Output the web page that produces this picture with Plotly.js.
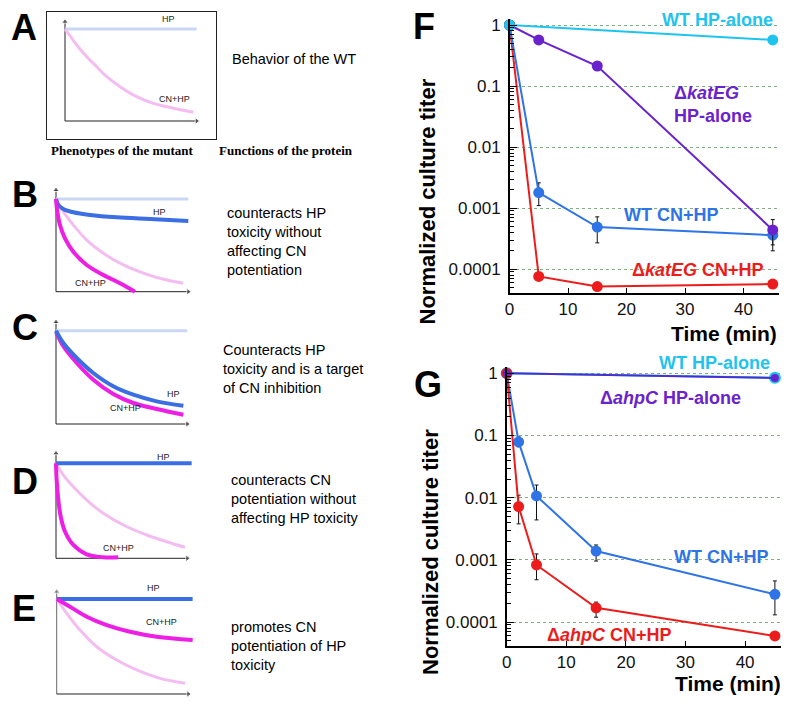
<!DOCTYPE html>
<html><head><meta charset="utf-8">
<script src="https://cdn.plot.ly/plotly-3.0.1.min.js"></script>
<style>html,body{margin:0;padding:0;background:#fff}#c{width:798px;height:708px}</style>
</head><body><div id="c"></div>
<script>
// ---------- Panel F data ----------
const fTimeAll = [0, 5, 15, 45];
const fTimeWt = [0, 45];
const fWtHpAlone = [1, 0.57];
const fKatHpAlone = [1, 0.57, 0.213, 0.00044];
const fKatHpHi = [null, null, null, 0.00065];
const fKatHpLo = [null, null, null, 0.00025];
const fWtCnHp = [1, 0.0018, 0.00049, 0.00036];
const fWtCnHi = [null, 0.0026, 0.00072, 0.00045];
const fWtCnLo = [null, 0.0011, 0.00027, 0.0002];
const fKatCnHp = [1, 0.000076, 0.000052, 0.000057];

// ---------- Panel G data ----------
const gTimeAll = [0, 2, 5, 15, 45];
const gTimeHp = [0, 45];
const gWtHpAlone = [1, 0.85];
const gAhpHpAlone = [1, 0.84];
const gWtCnHp = [1, 0.079, 0.0107, 0.00139, 0.00028];
const gWtCnHi = [null, 0.095, 0.016, 0.00174, 0.00046];
const gWtCnLo = [null, 0.066, 0.0044, 0.00096, 0.000131];
const gAhpCnHp = [1, 0.0072, 0.00083, 0.00017, 0.00006];
const gAhpCnHi = [null, 0.011, 0.00125, 0.00021, 0.000066];
const gAhpCnLo = [null, 0.0038, 0.00048, 0.00012, 0.000053];

const yTickVals = [1, 0.1, 0.01, 0.001, 0.0001];
const yTickText = ['1', '0.1', '0.01', '0.001', '0.0001'];
const xTickVals = [0, 10, 20, 30, 40];

// ---------- Schematic curves (arbitrary units 0-100) ----------
const axisX = [0, 100];
const aHpX = [0, 100], aHpY = [92.6, 92.6];
const aCnX = [0, 4.3, 8.9, 16.5, 24.1, 31.7, 41.8, 54.4, 67.1, 82.2, 97.4];
const aCnY = [92.6, 84.9, 76.5, 64.8, 54.6, 44.6, 34.6, 24.5, 17.8, 12.9, 8.8];

const bWtHpX = [0, 100], bWtHpY = [91.2, 91.2];
const bHpX = [0, 1.7, 5.5, 13.1, 25.7, 45.9, 71.1, 100];
const bHpY = [91.2, 85.3, 81.4, 78.1, 75.5, 73.2, 71.5, 69.6];
const bWtCnX = [0, 5.5, 13.1, 23.2, 35.8, 50.9, 68.6, 83.7, 96.2];
const bWtCnY = [91.2, 78.7, 65.6, 50.8, 37.8, 26.3, 17.1, 11.5, 8.3];
const bCnX = [0, 1, 3, 6.8, 13.1, 23.2, 35.8, 48.4, 59.7];
const bCnY = [91.2, 78.7, 65.6, 52.5, 39.3, 26.3, 16.4, 8.3, 0];

const cWtHpX = [0, 100], cWtHpY = [91.5, 91.5];
const cHpX = [0, 5.6, 15.8, 28.4, 43.6, 58.9, 76.7, 97];
const cHpY = [91.5, 79.4, 64.7, 50, 37, 28.7, 22.2, 17.9];
const cCnX = [0, 5.6, 15.8, 28.4, 43.6, 58.9, 76.7, 97];
const cCnY = [90.2, 76.2, 59.8, 43.4, 29.4, 20.6, 14.7, 9.1];

const dHpX = [0, 103.3], dHpY = [90.5, 90.5];
const dWtCnX = [0, 5.6, 13.2, 23.4, 36, 51.3, 69.1, 84.3, 98.2];
const dWtCnY = [90.5, 79.3, 68.2, 55.5, 42.9, 31.7, 22.2, 15.8, 10.5];
const dCnX = [0, 0.5, 1.8, 3.6, 6.9, 13.2, 23.4, 36, 47.4];
const dCnY = [90.5, 74.6, 55.5, 39.6, 25.3, 12.7, 3.8, 1, 1];

const eHpX = [0, 103.3], eHpY = [92.9, 92.9];
const eCnX = [0, 10.1, 22.8, 38, 55.7, 76, 103.3];
const eCnY = [92.9, 85.3, 75.6, 67.4, 60.9, 56, 52.8];
const eWtCnX = [0, 7.6, 17.7, 30.4, 45.6, 60.8, 78.5, 97.5];
const eWtCnY = [92.9, 78.9, 62.6, 46.2, 33.2, 23.5, 15.3, 10.5];

// ---------- styling ----------
const W = 798, H = 708;
const SANS = 'Liberation Sans, Arial, Helvetica, sans-serif';
const SERIF = 'Liberation Serif, Times New Roman, serif';
const C_CYAN = '#1fc4ee', C_PURPLE = '#6a22cc', C_BLUE = '#2f74e6', C_RED = '#ec1c1c';
const C_LBLUE = '#c9d6f4', C_LPINK = '#f4bdf1', C_MAG = '#ee1fe4', C_SBLUE = '#3a6ee2';

function errs(y, hi, lo) {
  return {
    type: 'data', symmetric: false,
    array: y.map((v, i) => hi[i] == null ? 0 : hi[i] - v),
    arrayminus: y.map((v, i) => lo[i] == null ? 0 : v - lo[i]),
    color: '#111', thickness: 1, width: 2
  };
}

const traces = [];
function ser(x, y, color, xa, ya, opts) {
  const t = Object.assign({
    x: x, y: y, xaxis: xa, yaxis: ya, type: 'scatter', mode: 'lines+markers',
    line: { color: color, width: 2 }, marker: { color: color, size: 11 },
    hoverinfo: 'skip', cliponaxis: false
  }, opts || {});
  traces.push(t);
}

// Panel F (x / y)
ser(fTimeAll, fKatCnHp, C_RED, 'x', 'y');
ser(fTimeAll, fWtCnHp, C_BLUE, 'x', 'y', { error_y: errs(fWtCnHp, fWtCnHi, fWtCnLo) });
ser(fTimeAll, fKatHpAlone, C_PURPLE, 'x', 'y', { error_y: errs(fKatHpAlone, fKatHpHi, fKatHpLo) });
ser(fTimeWt, fWtHpAlone, C_CYAN, 'x', 'y');

// Panel G (x2 / y2)
ser(gTimeHp, gWtHpAlone, C_CYAN, 'x2', 'y2', { marker: { color: C_CYAN, size: 12 } });
ser(gTimeAll, gWtCnHp, C_BLUE, 'x2', 'y2', { error_y: errs(gWtCnHp, gWtCnHi, gWtCnLo) });
ser(gTimeAll, gAhpCnHp, C_RED, 'x2', 'y2', { error_y: errs(gAhpCnHp, gAhpCnHi, gAhpCnLo) });
ser(gTimeHp, gAhpHpAlone, '#4a2fd0', 'x2', 'y2', { marker: { color: C_PURPLE, size: 8 } });

// Schematics
function curve(x, y, color, width, n) {
  traces.push({ x: x, y: y, xaxis: 'x' + n, yaxis: 'y' + n, type: 'scatter', mode: 'lines',
    line: { color: color, width: width, shape: 'spline', smoothing: 1 }, hoverinfo: 'skip' });
}
function schemAxes(n, col) {
  traces.push({ x: [0, 0], y: axisX, xaxis: 'x' + n, yaxis: 'y' + n, type: 'scatter', mode: 'lines+markers',
    line: { color: col || '#222', width: 1 }, marker: { symbol: ['circle', 'triangle-up'], size: [0, 6], color: col || '#222' },
    hoverinfo: 'skip', cliponaxis: false });
  traces.push({ x: axisX, y: [0, 0], xaxis: 'x' + n, yaxis: 'y' + n, type: 'scatter', mode: 'lines+markers',
    line: { color: '#222', width: 1 }, marker: { symbol: ['circle', 'triangle-right'], size: [0, 6], color: '#222' },
    hoverinfo: 'skip', cliponaxis: false });
}
// A = 3
schemAxes(3);
curve(aHpX, aHpY, C_LBLUE, 3, 3);
curve(aCnX, aCnY, C_LPINK, 3, 3);
// B = 4
schemAxes(4);
curve(bWtHpX, bWtHpY, C_LBLUE, 3, 4);
curve(bWtCnX, bWtCnY, C_LPINK, 3, 4);
curve(bHpX, bHpY, C_SBLUE, 4, 4);
curve(bCnX, bCnY, C_MAG, 4, 4);
// C = 5
schemAxes(5);
curve(cWtHpX, cWtHpY, C_LBLUE, 3, 5);
curve(cCnX, cCnY, C_MAG, 4, 5);
curve(cHpX, cHpY, C_SBLUE, 4, 5);
// D = 6
schemAxes(6);
curve(dWtCnX, dWtCnY, C_LPINK, 3, 6);
curve(dHpX, dHpY, C_SBLUE, 4, 6);
curve(dCnX, dCnY, C_MAG, 4, 6);
// E = 7
schemAxes(7, '#666');
curve(eWtCnX, eWtCnY, C_LPINK, 3, 7);
curve(eHpX, eHpY, C_SBLUE, 4, 7);
curve(eCnX, eCnY, C_MAG, 4, 7);

// ---------- layout geometry (pixels) ----------
const geo = {
  3: { x0: 65, x1: 196.7, yT: 21.7, yB: 121, xr: [-13.4, 114.7], yr: [-18.4, 110.1], box: true },
  4: { x0: 56, x1: 188.3, yT: 190, yB: 291.7, xr: [-6, 110], yr: [-6, 112] },
  5: { x0: 56, x1: 187.3, yT: 322, yB: 424, xr: [-6, 110], yr: [-6, 112] },
  6: { x0: 56, x1: 187.3, yT: 453.3, yB: 558.3, xr: [-6, 110], yr: [-6, 112] },
  7: { x0: 56.7, x1: 188.3, yT: 591.7, yB: 694, xr: [-6, 110], yr: [-6, 112] }
};
const layout = {
  width: W, height: H, margin: { l: 0, r: 0, t: 0, b: 0 }, showlegend: false,
  paper_bgcolor: '#fff', plot_bgcolor: 'rgba(0,0,0,0)', font: { family: SANS, color: '#000' },
  annotations: []
};
const clamp = v => Math.max(0, Math.min(1, v));
for (const n in geo) {
  const g = geo[n];
  const w = g.x1 - g.x0, h = g.yB - g.yT;
  const xd = [clamp((g.x0 + g.xr[0] / 100 * w) / W), clamp((g.x0 + g.xr[1] / 100 * w) / W)];
  const yd = [clamp(1 - (g.yB - g.yr[0] / 100 * h) / H), clamp(1 - (g.yB - g.yr[1] / 100 * h) / H)];
  const common = { showgrid: false, zeroline: false, showticklabels: false, ticks: '', fixedrange: true,
    showline: !!g.box, mirror: !!g.box, linecolor: '#222', linewidth: 1 };
  layout['xaxis' + n] = Object.assign({ domain: xd, range: g.xr, anchor: 'y' + n }, common);
  layout['yaxis' + n] = Object.assign({ domain: yd, range: g.yr, anchor: 'x' + n }, common);
}

// F & G axes
const yLo = -4.39, yHi = 0.1;
function logAxis(domain, anchor) {
  return { type: 'log', domain: domain, range: [yLo, yHi], anchor: anchor,
    tickvals: yTickVals, ticktext: yTickText, ticks: 'inside', ticklen: 7, tickwidth: 1, tickcolor: '#000',
    tickfont: { size: 17, family: SANS, color: '#111' }, ticklabelstandoff: 4,
    showline: true, linecolor: '#000', linewidth: 1.5,
    showgrid: true, gridcolor: '#7fb07f', griddash: 'dot', gridwidth: 1, zeroline: false,
    minor: { dtick: 'D1', ticks: 'inside', ticklen: 4, tickcolor: '#000', showgrid: false } };
}
function linAxis(domain, anchor) {
  return { domain: domain, range: [0, 46], anchor: anchor, tickvals: xTickVals,
    ticks: 'inside', ticklen: 5, tickcolor: '#000', tickfont: { size: 17, family: SANS, color: '#111' },
    showline: true, linecolor: '#000', linewidth: 1.5, showgrid: false, zeroline: false };
}
layout.xaxis = linAxis([509.5 / W, (509.5 + 46 * 5.85) / W], 'y');
layout.yaxis = logAxis([1 - 293 / H, 1 - 18.9 / H], 'x');
layout.xaxis2 = linAxis([506.7 / W, (506.7 + 46 * 5.96) / W], 'y2');
layout.yaxis2 = logAxis([1 - 646.4 / H, 1 - 367.1 / H], 'x2');

const A = layout.annotations;
function paperText(text, px, py, size, opts) {
  A.push(Object.assign({ text: text, x: px / W, y: 1 - py / H, xref: 'paper', yref: 'paper',
    showarrow: false, xanchor: 'left', yanchor: 'middle', align: 'left',
    font: { size: size, family: SANS, color: '#000' } }, opts || {}));
}
// panel letters
[['A', 24, 27], ['B', 24.5, 195], ['C', 24.5, 328], ['D', 25, 481], ['E', 24, 608], ['F', 424, 26], ['G', 428, 385]]
  .forEach(l => paperText('<b>' + l[0] + '</b>', l[1], l[2], 36, { xanchor: 'center' }));
// descriptions
paperText('Behavior of the WT', 230, 59.3, 14.5);
paperText('<b>Phenotypes of the mutant</b>', 122, 150, 13, { xanchor: 'center', font: { size: 13, family: SERIF, color: '#000' } });
paperText('<b>Functions of the protein</b>', 285.5, 150, 13, { xanchor: 'center', font: { size: 13, family: SERIF, color: '#000' } });
paperText('counteracts HP<br>toxicity without<br>affecting CN<br>potentiation', 225, 241.7, 14.5);
paperText('Counteracts HP<br>toxicity and is a target<br>of CN inhibition', 220.7, 369.2, 14.5);
paperText('counteracts CN<br>potentiation without<br>affecting HP toxicity', 229, 498.6, 14.5);
paperText('promotes CN<br>potentiation of HP<br>toxicity', 229, 645.9, 14.5);
// axis titles
paperText('<b>Normalized culture titer</b>', 427, 201.5, 22, { xanchor: 'center', textangle: -90 });
paperText('<b>Normalized culture titer</b>', 430, 552, 22, { xanchor: 'center', textangle: -90 });
paperText('<b>Time (min)</b>', 779, 333, 21, { xanchor: 'right' });
paperText('<b>Time (min)</b>', 783, 683, 21, { xanchor: 'right' });

// schematic labels (in schematic units)
function sLab(text, n, x, y) {
  A.push({ text: text, x: x, y: y, xref: 'x' + n, yref: 'y' + n, showarrow: false,
    xanchor: 'center', yanchor: 'middle', font: { size: 9, family: SANS, color: '#222' } });
}
sLab('HP', 3, 78.4, 102.7); sLab('CN+HP', 3, 83.5, 21.9);
sLab('HP', 4, 78.6, 78.1); sLab('CN+HP', 4, 25.7, 8.9);
sLab('HP', 5, 89.3, 29.7); sLab('CN+HP', 5, 52.6, 15.7);
sLab('HP', 6, 81.7, 96.2); sLab('CN+HP', 6, 47.4, 9.5);
sLab('HP', 7, 73.4, 103.9); sLab('CN+HP', 7, 79.8, 70.7);

// series labels F/G
function dLab(text, ax, x, ylog, color, anchor, yshift) {
  A.push({ text: text, x: x, y: ylog, xref: ax[0], yref: ax[1], showarrow: false, yshift: yshift || 0,
    xanchor: anchor || 'center', yanchor: 'middle', align: 'left', font: { size: 18, family: SANS, color: color } });
}
dLab('<b>WT HP-alone</b>', ['x', 'y'], 45.4, 0.09, C_CYAN, 'right', 0);
dLab('<b>Δ<i>katEG</i><br>HP-alone</b>', ['x', 'y'], 27.8, -1.31, C_PURPLE, 'left');
dLab('<b>WT CN+HP</b>', ['x', 'y'], 27.7, -3.11, C_BLUE);
dLab('<b>Δ<i>katEG</i> CN+HP</b>', ['x', 'y'], 32.1, -4.01, C_RED);
dLab('<b>WT HP-alone</b>', ['x2', 'y2'], 44.5, 0.09, C_CYAN, 'right', 4.5);
dLab('<b>Δ<i>ahpC</i> HP-alone</b>', ['x2', 'y2'], 27.4, -0.40, C_PURPLE);
dLab('<b>WT CN+HP</b>', ['x2', 'y2'], 36, -2.95, C_BLUE);
dLab('<b>Δ<i>ahpC</i> CN+HP</b>', ['x2', 'y2'], 17.1, -4.21, C_RED);

Plotly.newPlot('c', traces, layout, { staticPlot: true, displayModeBar: false });
</script></body></html>
